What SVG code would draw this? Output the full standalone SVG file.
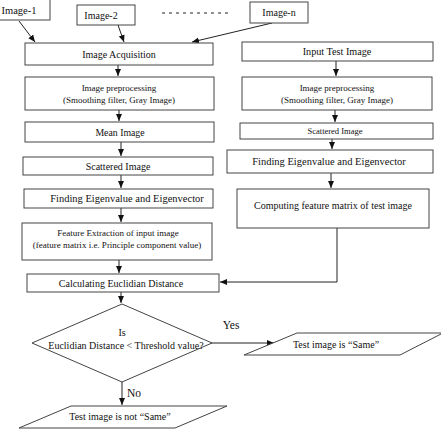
<svg xmlns="http://www.w3.org/2000/svg" width="441" height="434" viewBox="0 0 441 434">
<style>
.b{fill:#fff;stroke:#444;stroke-width:1}
.t{font-family:"Liberation Serif","Times New Roman",serif;fill:#111;text-anchor:middle}
.c{stroke:#222;stroke-width:1;fill:none}
</style>
<defs>
<marker id="ah" markerWidth="8" markerHeight="8" refX="7" refY="4" orient="auto" markerUnits="userSpaceOnUse">
<path d="M0,1 L7,4 L0,7 z" fill="#111"/>
</marker>
</defs>
<rect width="441" height="434" fill="#fff"/>
<g id="connectors">
<line class="c" x1="19" y1="21" x2="35" y2="42" marker-end="url(#ah)"/>
<line class="c" x1="118" y1="25" x2="124" y2="42" marker-end="url(#ah)"/>
<line class="c" x1="272" y1="23" x2="192" y2="42" marker-end="url(#ah)"/>
<line class="c" x1="162" y1="13" x2="232" y2="13" stroke-dasharray="3,4"/>
<line class="c" x1="118" y1="65" x2="118" y2="76" marker-end="url(#ah)"/>
<line class="c" x1="119" y1="110" x2="119" y2="121" marker-end="url(#ah)"/>
<line class="c" x1="121" y1="142" x2="121" y2="156" marker-end="url(#ah)"/>
<line class="c" x1="121" y1="175" x2="121" y2="188" marker-end="url(#ah)"/>
<line class="c" x1="121" y1="208" x2="121" y2="222" marker-end="url(#ah)"/>
<line class="c" x1="119" y1="260" x2="119" y2="273" marker-end="url(#ah)"/>
<line class="c" x1="121" y1="292" x2="121" y2="303" marker-end="url(#ah)"/>
<line class="c" x1="336" y1="61" x2="336" y2="76" marker-end="url(#ah)"/>
<line class="c" x1="335" y1="110" x2="335" y2="122" marker-end="url(#ah)"/>
<line class="c" x1="332" y1="139" x2="332" y2="149" marker-end="url(#ah)"/>
<line class="c" x1="331" y1="173" x2="331" y2="188" marker-end="url(#ah)"/>
<polyline class="c" points="337,228 337,282 220,282" marker-end="url(#ah)"/>
<line class="c" x1="211" y1="343" x2="274" y2="343" stroke-width="1.5" marker-end="url(#ah)"/>
<line class="c" x1="122" y1="382" x2="122" y2="405" marker-end="url(#ah)"/>
<text class="t" x="231" y="329" font-size="11.5">Yes</text>
<text class="t" x="134" y="397" font-size="11.5">No</text>
</g>
<g id="image1"><rect class="b" x="-2" y="-2" width="52" height="22"/><text class="t" x="19" y="14" font-size="10.5">Image-1</text></g>
<g id="image2"><rect class="b" x="77" y="5" width="58" height="20"/><text class="t" x="101" y="19" font-size="10">Image-2</text></g>
<g id="imagen"><rect class="b" x="250" y="2" width="58" height="21"/><text class="t" x="279" y="16" font-size="10">Image-n</text></g>
<g id="acq"><rect class="b" x="25" y="43" width="188" height="22"/><text class="t" x="119" y="58" font-size="10">Image Acquisition</text></g>
<g id="pre1"><rect class="b" x="25" y="77" width="189" height="33"/><text class="t" x="119" y="91" font-size="9">Image preprocessing</text><text class="t" x="119" y="103" font-size="9">(Smoothing filter, Gray Image)</text></g>
<g id="mean"><rect class="b" x="25" y="122" width="189" height="20"/><text class="t" x="120" y="136" font-size="9.8">Mean Image</text></g>
<g id="scat1"><rect class="b" x="23" y="157" width="190" height="18"/><text class="t" x="118" y="170" font-size="10">Scattered Image</text></g>
<g id="eig1"><rect class="b" x="24" y="189" width="189" height="19"/><text class="t" x="127" y="202" font-size="10.5">Finding Eigenvalue and Eigenvector</text></g>
<g id="feat"><rect class="b" x="22" y="223" width="190" height="37"/><text class="t" x="118" y="236" font-size="9">Feature Extraction of input image</text><text class="t" x="117" y="248" font-size="9">(feature matrix i.e. Principle component value)</text></g>
<g id="calc"><rect class="b" x="27" y="274" width="192" height="18"/><text class="t" x="121" y="287" font-size="10">Calculating Euclidian Distance</text></g>
<g id="input"><rect class="b" x="242" y="42" width="191" height="19"/><text class="t" x="337" y="55" font-size="10.2">Input Test Image</text></g>
<g id="pre2"><rect class="b" x="242" y="77" width="190" height="33"/><text class="t" x="337" y="91" font-size="9">Image preprocessing</text><text class="t" x="337" y="103" font-size="9">(Smoothing filter, Gray Image)</text></g>
<g id="scat2"><rect class="b" x="240" y="123" width="193" height="16"/><text class="t" x="335" y="134" font-size="8.5">Scattered Image</text></g>
<g id="eig2"><rect class="b" x="227" y="150" width="206" height="23"/><text class="t" x="329" y="165" font-size="10.5">Finding Eigenvalue and Eigenvector</text></g>
<g id="comp"><rect class="b" x="237" y="189" width="192" height="39"/><text class="t" x="333" y="209" font-size="10">Computing feature matrix of test image</text></g>
<g id="decision"><polygon class="b" points="122,304 212,343 122,382 32,343"/><text class="t" x="122" y="336" font-size="10">Is</text><text class="t" x="126" y="349" font-size="10">Euclidian Distance &lt; Threshold value?</text></g>
<g id="same"><polygon class="b" points="297,333 443,333 400,355 244,355"/><text class="t" x="336" y="348" font-size="10">Test image is “Same”</text></g>
<g id="notsame"><polygon class="b" points="71,406 227,406 175,428 19,428"/><text class="t" x="120" y="420" font-size="10">Test image is not “Same”</text></g>
</svg>
